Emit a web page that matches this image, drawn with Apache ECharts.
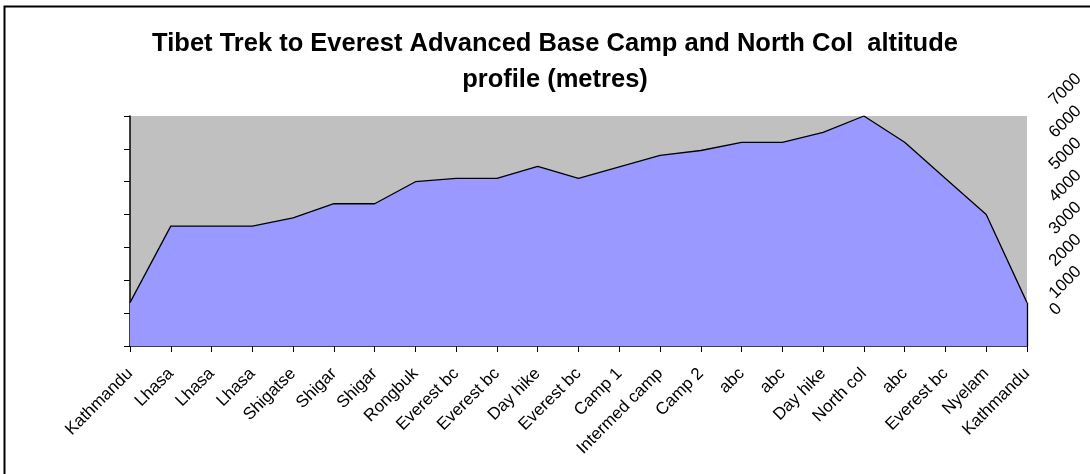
<!DOCTYPE html>
<html>
<head>
<meta charset="utf-8">
<title>Tibet Trek altitude profile</title>
<script src="https://cdn.jsdelivr.net/npm/echarts@6/dist/echarts.min.js"></script>
<style>
  html, body { margin: 0; padding: 0; background: #fff; }
  #chart { width: 1090px; height: 474px; }
</style>
</head>
<body>
<div id="chart"></div>
<script>
// places along the trek (x axis)
const categories = ['Kathmandu', 'Lhasa', 'Lhasa', 'Lhasa', 'Shigatse', 'Shigar', 'Shigar', 'Rongbuk',
  'Everest bc', 'Everest bc', 'Day hike', 'Everest bc', 'Camp 1', 'Intermed camp', 'Camp 2',
  'abc', 'abc', 'Day hike', 'North col', 'abc', 'Everest bc', 'Nyelam', 'Kathmandu']

// altitude in metres
const altitudes = [1320, 3650, 3650, 3650, 3900, 4330, 4330, 5000, 5100, 5100, 5470, 5100,
  5450, 5800, 5950, 6200, 6200, 6500, 7000, 6200, 5100, 4000, 1320]

// value axis
const yMin = 0
const yMax = 7000
const yStep = 1000

const titleText = 'Tibet Trek to Everest Advanced Base Camp and North Col  altitude\nprofile (metres)'

const font = '"Liberation Sans", Arial, sans-serif'

const chart = echarts.init(document.getElementById('chart'), null, { renderer: 'canvas' })

const lastIdx = categories.length - 1

chart.setOption({
  backgroundColor: '#ffffff',
  animation: false,
  title: {
    text: titleText,
    left: 550,
    top: 21,
    textAlign: 'center',
    textStyle: {
      fontFamily: font,
      fontSize: 25.5,
      fontWeight: 'bold',
      color: '#000',
      lineHeight: 36
    }
  },
  graphic: [
    {
      // outer chart frame (runs off the right / bottom edge)
      type: 'rect',
      silent: true,
      shape: { x: 4.5, y: 6.5, width: 1200, height: 600 },
      style: { fill: null, stroke: '#000', lineWidth: 2 }
    }
  ],
  grid: [
    {
      // plot area
      left: 130,
      right: 63,
      top: 116,
      bottom: 128,
      show: true,
      backgroundColor: '#c0c0c0',
      borderWidth: 0
    },
    {
      // only carries the rotated value labels on the right
      left: 130,
      right: 63,
      top: 103,
      bottom: 146,
      show: false
    }
  ],
  xAxis: [
    {
      type: 'category',
      gridIndex: 0,
      data: categories,
      boundaryGap: false,
      axisLine: { lineStyle: { color: '#000', width: 1.5 } },
      axisTick: { show: true, interval: 0, length: 6, lineStyle: { color: '#000' } },
      axisLabel: {
        interval: 0,
        rotate: 45,
        margin: 25,
        fontFamily: font,
        fontSize: 17,
        color: '#000'
      },
      splitLine: { show: false }
    },
    {
      type: 'category',
      gridIndex: 1,
      data: categories,
      boundaryGap: false,
      show: false
    }
  ],
  yAxis: [
    {
      type: 'value',
      gridIndex: 0,
      position: 'left',
      min: yMin,
      max: yMax,
      interval: yStep,
      axisLine: { show: true, lineStyle: { color: '#000', width: 1.5 } },
      axisTick: { show: true, length: 6, lineStyle: { color: '#000' } },
      axisLabel: { show: false },
      splitLine: { show: false }
    },
    {
      type: 'value',
      gridIndex: 1,
      position: 'right',
      min: yMin,
      max: yMax,
      interval: yStep,
      axisLine: { show: false },
      axisTick: { show: false },
      splitLine: { show: false },
      axisLabel: {
        show: true,
        rotate: 45,
        margin: 25,
        fontFamily: font,
        fontSize: 17,
        color: '#000',
        formatter: function (v) {
          return v === 0 ? '{z|0}' : String(v)
        },
        rich: {
          z: { fontFamily: font, fontSize: 17, color: '#000', padding: [0, 0, 21, 11] }
        }
      }
    }
  ],
  series: [
    {
      type: 'line',
      xAxisIndex: 0,
      yAxisIndex: 0,
      data: altitudes,
      symbol: 'none',
      lineStyle: { color: '#000', width: 1.3 },
      areaStyle: { color: '#9999ff', opacity: 1 },
      markLine: {
        silent: true,
        symbol: 'none',
        label: { show: false },
        lineStyle: { color: '#000', width: 1.3, type: 'solid' },
        data: [
          [
            { coord: [lastIdx, yMin] },
            { coord: [lastIdx, altitudes[lastIdx]] }
          ]
        ]
      }
    }
  ]
})
</script>
</body>
</html>
